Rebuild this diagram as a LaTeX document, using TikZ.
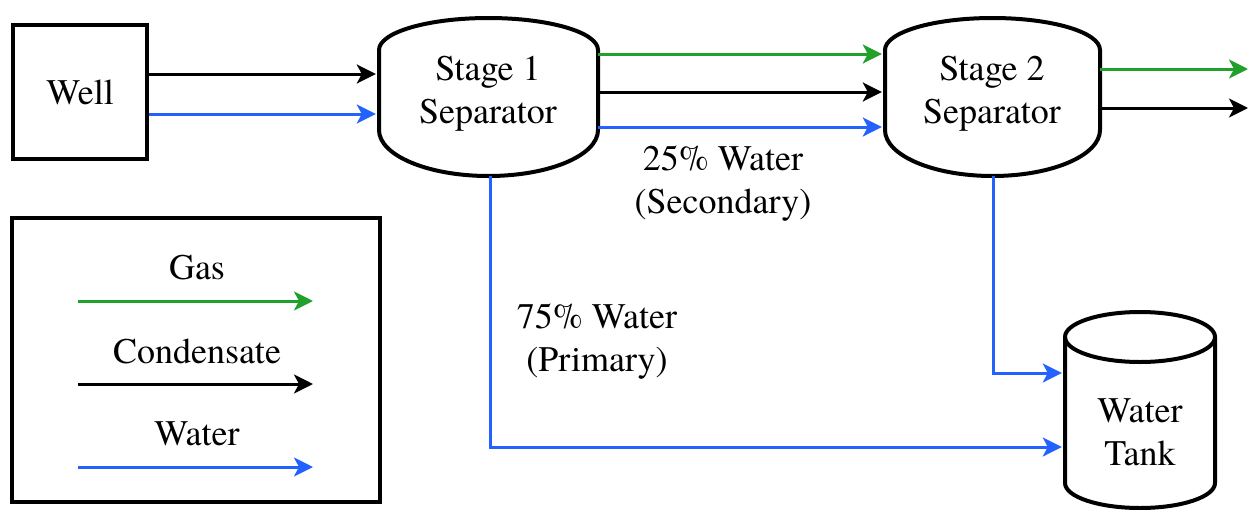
\documentclass[tikz,border=0pt]{standalone}
\usepackage{fontspec}
\setmainfont{TeX Gyre Termes}
\usetikzlibrary{arrows.meta}
\definecolor{gasgreen}{RGB}{34,160,44}
\definecolor{waterblue}{RGB}{36,98,255}
\tikzset{
  unit/.style={draw, line width=4pt},
  label text/.style={font=\fontsize{36}{43}\selectfont, align=center, inner sep=0pt},
  frame/.style={inner sep=0pt, minimum width=#1},
  flow/.style={line width=3pt, shorten >=3pt, -{Stealth[length=19pt,width=19pt,inset=5pt]}},
  gas/.style={flow, gasgreen},
  cond/.style={flow, black},
  water/.style={flow, waterblue},
}
\begin{document}
\begin{tikzpicture}[x=1pt,y=-1pt]
\useasboundingbox (0,0) rectangle (1251,509);

% Well
\node[unit, minimum width=134pt, minimum height=134pt, inner sep=0pt] (well) at (80,92) {};
\node[label text] (welltxt) at (80,92) {Well};

% Separators: straight sides, elliptical caps
\node[frame=219pt, minimum height=158pt] (s1) at (488.5,97) {};
\draw[unit] (379,130) -- (379,50) arc[start angle=180, end angle=360, x radius=109.5, y radius=32]
  -- (598,130) arc[start angle=0, end angle=180, x radius=109.5, y radius=46] -- cycle;
\node[label text] (s1txt) at (488,94) {Stage 1\\Separator};

\node[frame=215pt, minimum height=158pt] (s2) at (992.5,97) {};
\draw[unit] (885,130) -- (885,50) arc[start angle=180, end angle=360, x radius=107.5, y radius=32]
  -- (1100,130) arc[start angle=0, end angle=180, x radius=107.5, y radius=46] -- cycle;
\node[label text] (s2txt) at (992,94) {Stage 2\\Separator};

% Water tank
\node[frame=150pt, minimum height=196pt] (tank) at (1140,410) {};
\draw[unit] (1065,337) -- (1065,483) arc[start angle=180, end angle=0, x radius=75, y radius=25]
  -- (1215,337);
\draw[unit] (1140,337) ellipse[x radius=75, y radius=25];
\node[label text] (tanktxt) at (1140,432) {Water\\Tank};

% Well to stage 1
\draw[cond]  (well.east |- 0,74)  -- (s1.west |- 0,74);
\draw[water] (well.east |- 0,114) -- (s1.west |- 0,114);

% Stage 1 to stage 2
\draw[gas]   (s1.east |- 0,54)  -- (s2.west |- 0,54);
\draw[cond]  (s1.east |- 0,92)  -- (s2.west |- 0,92);
\draw[water] (s1.east |- 0,127) -- (s2.west |- 0,127);

% Stage 2 outlets
\coordinate (gasout) at (1251,69);
\coordinate (condout) at (1251,108);
\draw[gas]  (s2.east |- gasout)  -- (gasout);
\draw[cond] (s2.east |- condout) -- (condout);

% Water to tank
\draw[water] (490,176) |- (tank.west |- 0,447);
\draw[water] (993,176) |- (tank.west |- 0,373);

\node[label text] (sec) at (723,184) {25\% Water\\(Secondary)};
\node[label text] (pri) at (597,342) {75\% Water\\(Primary)};

% Legend
\node[unit, minimum width=368pt, minimum height=284pt, inner sep=0pt] (legend) at (196,360) {};
\node[label text] (lgas) at (197,268) {Gas};
\node[label text] (lcond) at (197,351) {Condensate};
\node[label text] (lwater) at (197,434) {Water};
\coordinate (g0) at (78,301);  \coordinate (g1) at (316,301);
\coordinate (c0) at (78,384);  \coordinate (c1) at (316,384);
\coordinate (w0) at (78,467);  \coordinate (w1) at (316,467);
\draw[gas] (g0) -- (g1);
\draw[cond] (c0) -- (c1);
\draw[water] (w0) -- (w1);
\end{tikzpicture}
\end{document}
